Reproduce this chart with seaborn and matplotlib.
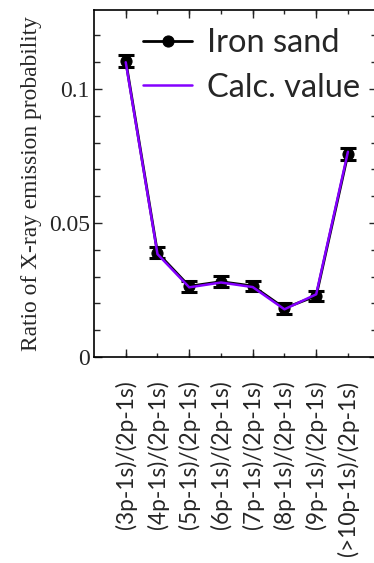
import numpy as np
import pandas as pd
import matplotlib
matplotlib.use("Agg")
import matplotlib.pyplot as plt
import seaborn as sns
from matplotlib.ticker import MultipleLocator, FixedLocator

categories = ["(3p-1s)/(2p-1s)", "(4p-1s)/(2p-1s)", "(5p-1s)/(2p-1s)", "(6p-1s)/(2p-1s)",
              "(7p-1s)/(2p-1s)", "(8p-1s)/(2p-1s)", "(9p-1s)/(2p-1s)", "(>10p-1s)/(2p-1s)"]
iron_sand = [0.1105, 0.0389, 0.0264, 0.0281, 0.0265, 0.0182, 0.0228, 0.0758]
iron_err = [0.0022, 0.0020, 0.0020, 0.0020, 0.0020, 0.0020, 0.0020, 0.0022]
calc_value = [0.1100, 0.0384, 0.0260, 0.0278, 0.0261, 0.0178, 0.0234, 0.0766]

sns.set_style("ticks")
plt.rcParams['font.family'] = ['Liberation Serif', 'DejaVu Serif']

W, H = 374, 563
fig = plt.figure(figsize=(W / 100, H / 100), dpi=100)
ax = fig.add_axes([94 / W, (H - 357) / H, (376.5 - 94) / W, (357 - 10) / H])

pos = np.arange(len(categories))
df = pd.DataFrame({"pos": pos, "iron": iron_sand, "calc": calc_value, "err": iron_err})

ax.errorbar(df["pos"], df["iron"], yerr=df["err"], fmt="none", ecolor="black",
            elinewidth=1.8, capsize=5.5, capthick=2.2, zorder=3)
sns.lineplot(data=df, x="pos", y="iron", ax=ax, color="black", marker="o",
             markersize=8, markeredgecolor="black", linewidth=2.0, label="Iron sand", zorder=4)
sns.lineplot(data=df, x="pos", y="calc", ax=ax, color="#8400ff", linewidth=1.8,
             label="Calc. value", zorder=5)

ax.set_xlim(-1, 7.9)
ax.set_ylim(0, 0.1295)

ax.set_xticks(pos)
ax.set_xticklabels(categories, rotation=90, family=['Lato', 'DejaVu Sans'], fontsize=16.3)
ax.xaxis.set_minor_locator(FixedLocator(pos[::2]))
ax.xaxis.remove_overlapping_locs = False
ax.tick_params(axis="x", which="major", direction="in", length=3, pad=17, top=True, width=1)
ax.tick_params(axis="x", which="minor", direction="in", length=6, top=True, width=1)

ax.yaxis.set_major_locator(FixedLocator([0, 0.05, 0.1]))
ax.set_yticklabels(["0", "0.05", "0.1"])
ax.yaxis.set_minor_locator(MultipleLocator(0.01))
ax.tick_params(axis="y", which="major", direction="in", length=6, right=True, labelsize=17, pad=3, width=1)
ax.tick_params(axis="y", which="minor", direction="in", length=4, right=True, width=1)

ax.set_xlabel("")
ax.set_ylabel("Ratio of X-ray emission probability", fontsize=16.8, labelpad=5)

for s in ax.spines.values():
    s.set_linewidth(1.2)
    s.set_color("black")

leg = ax.legend(loc="upper right", bbox_to_anchor=(1.005, 1.0), frameon=False,
                prop={"family": ["Lato", "DejaVu Sans"], "size": 23.5},
                handlelength=1.5, handletextpad=0.45, labelspacing=0.45, borderaxespad=0.15)

fig.savefig("out.png", dpi=100)
